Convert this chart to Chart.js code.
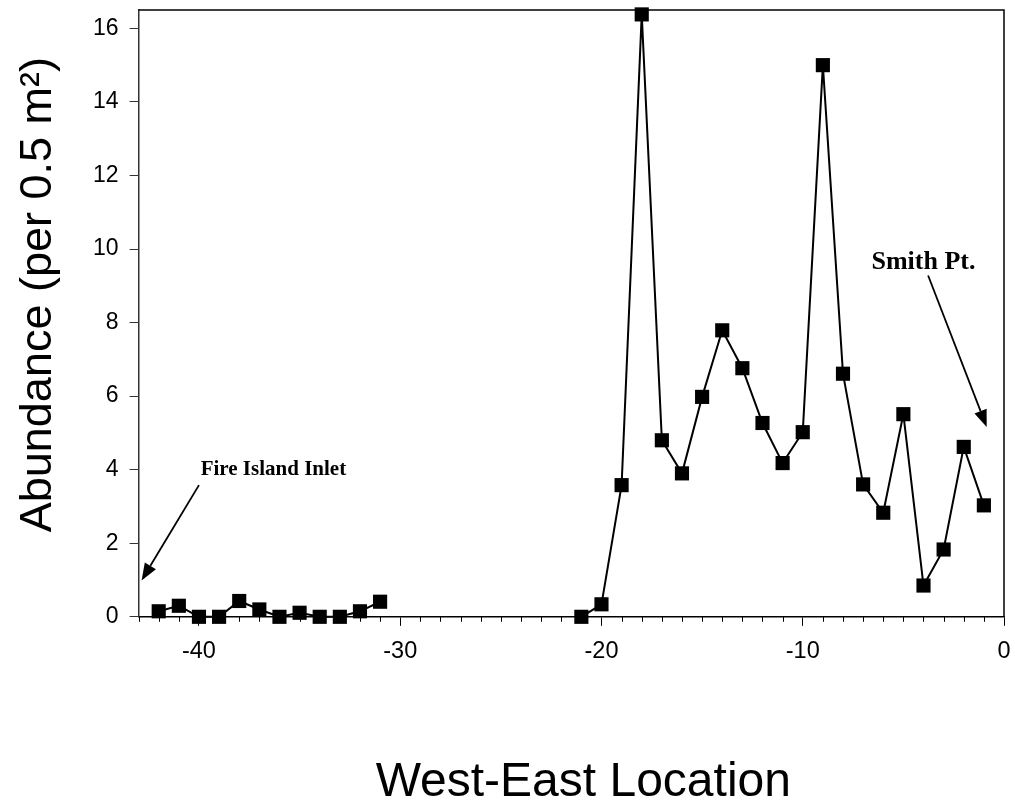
<!DOCTYPE html>
<html>
<head>
<meta charset="utf-8">
<script src="https://cdn.jsdelivr.net/npm/chart.js@4/dist/chart.umd.min.js"></script>
<style>
html,body{margin:0;padding:0;background:#fff;}
canvas{display:block;}
</style>
</head>
<body>
<canvas id="c" width="1015" height="808"></canvas>
<script>
// ---- data ----
const locations = [-42,-41,-40,-39,-38,-37,-36,-35,-34,-33,-32,-31,
                   -21,-20,-19,-18,-17,-16,-15,-14,-13,-12,-11,-10,-9,-8,-7,-6,-5,-4,-3,-2,-1];
const abundance = [0.15,0.3,0,0,0.43,0.2,0,0.11,0,0,0.15,0.41,
                   0,0.34,3.58,16.38,4.8,3.9,5.98,7.79,6.76,5.27,4.18,5.02,15.0,6.61,3.6,2.83,5.51,0.85,1.83,4.62,3.03];
const xTickValues = [-40,-30,-20,-10,0];
const yTickValues = [0,2,4,6,8,10,12,14,16];
const annotationLabels = ['Fire Island Inlet','Smith Pt.'];

// annotation anchors (in data units) and styling
const annotationConfig = [
  {text: annotationLabels[0], tx:-36.3, ty:4.0, fontSize:21, x0:-40.0, y0:3.58, x1:-42.85, y1:0.99},
  {text: annotationLabels[1], tx:-4.0,  ty:9.64, fontSize:26, x0:-3.77, y0:9.28, x1:-0.86, y1:5.16}
];

// build points, breaking the line where there is a gap in locations
const points = [];
locations.forEach((loc, i) => {
  if (i > 0 && loc - locations[i-1] > 1) points.push({x: (loc + locations[i-1]) / 2, y: null});
  points.push({x: loc, y: abundance[i]});
});

const SANS = "'Liberation Sans', Arial, Helvetica, sans-serif";
const SERIF = "'Liberation Serif', 'Times New Roman', serif";

const frameAndMinorTicks = {
  id: 'frameAndMinorTicks',
  afterDraw(chart) {
    const xs = chart.scales.x;
    const ca = chart.chartArea;
    const ctx = chart.ctx;
    ctx.save();
    // top and right frame lines
    ctx.strokeStyle = '#000';
    ctx.lineWidth = 1.5;
    ctx.beginPath();
    ctx.moveTo(ca.left, ca.top);
    ctx.lineTo(ca.right, ca.top);
    ctx.lineTo(ca.right, ca.bottom);
    ctx.stroke();
    // minor ticks every unit
    ctx.lineWidth = 1;
    for (let v = Math.ceil(xs.min); v <= xs.max; v++) {
      if (xTickValues.includes(v)) continue;
      const px = Math.round(xs.getPixelForValue(v)) + 0.5;
      ctx.beginPath();
      ctx.moveTo(px, xs.top);
      ctx.lineTo(px, xs.top + 5);
      ctx.stroke();
    }
    ctx.restore();
  }
};

const annotations = {
  id: 'annotations',
  afterDatasetsDraw(chart) {
    const xs = chart.scales.x, ys = chart.scales.y, ctx = chart.ctx;
    ctx.save();
    annotationConfig.forEach(a => {
      ctx.fillStyle = '#000';
      ctx.font = `bold ${a.fontSize}px ${SERIF}`;
      ctx.textAlign = 'center';
      ctx.textBaseline = 'middle';
      ctx.fillText(a.text, xs.getPixelForValue(a.tx), ys.getPixelForValue(a.ty));
      const px0 = xs.getPixelForValue(a.x0), py0 = ys.getPixelForValue(a.y0);
      const px1 = xs.getPixelForValue(a.x1), py1 = ys.getPixelForValue(a.y1);
      const ang = Math.atan2(py1 - py0, px1 - px0);
      const L = 17, W = 6.5;
      const bx = px1 - L * Math.cos(ang), by = py1 - L * Math.sin(ang);
      ctx.strokeStyle = '#000';
      ctx.lineWidth = 1.8;
      ctx.beginPath();
      ctx.moveTo(px0, py0);
      ctx.lineTo(bx, by);
      ctx.stroke();
      ctx.beginPath();
      ctx.moveTo(px1, py1);
      ctx.lineTo(bx + W * Math.sin(ang), by - W * Math.cos(ang));
      ctx.lineTo(bx - W * Math.sin(ang), by + W * Math.cos(ang));
      ctx.closePath();
      ctx.fill();
    });
    ctx.restore();
  }
};

new Chart(document.getElementById('c'), {
  type: 'line',
  data: {
    datasets: [{
      data: points,
      borderColor: '#000',
      borderWidth: 2,
      backgroundColor: '#000',
      pointStyle: 'rect',
      pointRadius: 10,
      pointBorderWidth: 0,
      pointBackgroundColor: '#000',
      spanGaps: false,
      tension: 0,
      clip: false
    }]
  },
  options: {
    responsive: false,
    animation: false,
    layout: {autoPadding: false, padding: {left: 0, top: 10, right: 11, bottom: 1}},
    plugins: {legend: {display: false}, tooltip: {enabled: false}},
    scales: {
      x: {
        type: 'linear', position: 'bottom', min: -43, max: 0,
        afterBuildTicks: s => { s.ticks = xTickValues.map(v => ({value: v})); },
        afterFit: s => { s.paddingLeft = 0; s.paddingRight = 0; },
        ticks: {font: {family: SANS, size: 23.5}, color: '#000', padding: 12, maxRotation: 0, autoSkip: false},
        grid: {drawOnChartArea: false, tickLength: 9, tickColor: '#000', tickWidth: 1},
        border: {color: '#000', width: 1.5},
        title: {display: true, text: '\u2002West-East Location', color: '#000',
                font: {family: SANS, size: 48, lineHeight: 1}, padding: {top: 81, bottom: 0}}
      },
      y: {
        type: 'linear', position: 'left', min: 0, max: 16.5,
        afterBuildTicks: s => { s.ticks = yTickValues.map(v => ({value: v})); },
        afterFit: s => { s.paddingTop = 0; s.paddingBottom = 0; },
        ticks: {font: {family: SANS, size: 23}, color: '#000', padding: 11},
        grid: {drawOnChartArea: false, tickLength: 9, tickColor: '#333', tickWidth: 1},
        border: {color: '#333', width: 1.5},
        title: {display: true, text: '   Abundance (per 0.5 m²)', color: '#000',
                font: {family: SANS, size: 45, lineHeight: 1.2}, padding: {top: 12, bottom: 16}}
      }
    }
  },
  plugins: [frameAndMinorTicks, annotations]
});
</script>
</body>
</html>
